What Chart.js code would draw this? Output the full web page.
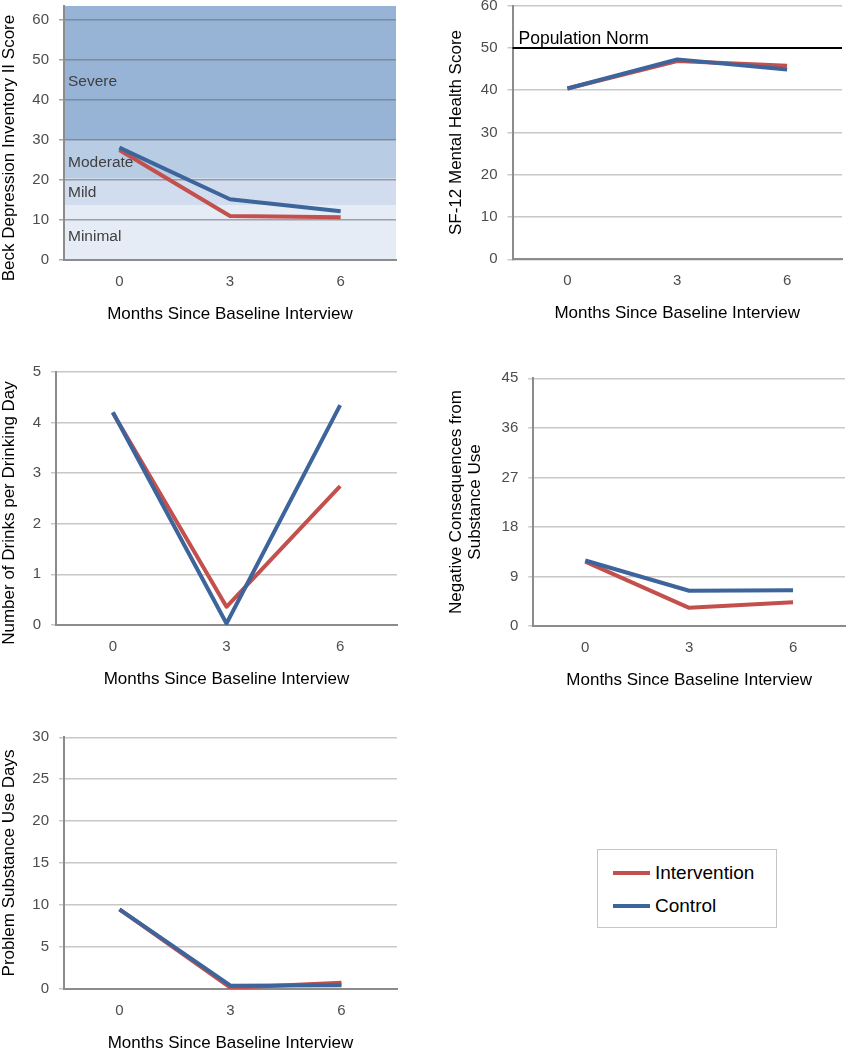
<!DOCTYPE html>
<html>
<head>
<meta charset="utf-8">
<script src="https://cdn.jsdelivr.net/npm/chart.js@4.4.0/dist/chart.umd.min.js"></script>
<style>
html,body{margin:0;padding:0;background:#fff;overflow:hidden;}
#wrap{position:relative;width:847px;height:1050px;overflow:hidden;font-family:"Liberation Sans",Arial,sans-serif;}
#wrap canvas{position:absolute;}
#legend{position:absolute;left:597px;top:849px;width:180px;height:79px;border:1px solid #c6c6c6;box-sizing:border-box;background:#fff;}
#legend .sw{position:absolute;left:15px;width:37px;height:4px;}
#legend .lt{position:absolute;left:57px;font-size:19px;line-height:22px;color:#000;white-space:nowrap;}
</style>
</head>
<body>
<div id="wrap">
  <canvas id="c1"></canvas>
  <canvas id="c2"></canvas>
  <canvas id="c3"></canvas>
  <canvas id="c4"></canvas>
  <canvas id="c5"></canvas>
  <div id="legend">
    <div class="sw" style="top:21px;background:#c4504d"></div><div class="lt" style="top:12px">Intervention</div>
    <div class="sw" style="top:54px;background:#3e659b"></div><div class="lt" style="top:45px">Control</div>
  </div>
</div>
<script>
// ---------- data ----------
const months = ['0', '3', '6'];
const seriesNames = ['Intervention', 'Control'];

const bdiIntervention = [27.5, 11.0, 10.7];
const bdiControl = [28.1, 15.2, 12.2];

const sf12Intervention = [40.4, 46.9, 45.8];
const sf12Control = [40.4, 47.3, 44.9];

const drinksIntervention = [4.19, 0.36, 2.74];
const drinksControl = [4.2, 0.03, 4.34];

const consequencesIntervention = [11.7, 3.3, 4.3];
const consequencesControl = [11.9, 6.4, 6.5];

const problemDaysIntervention = [9.5, 0.15, 0.75];
const problemDaysControl = [9.5, 0.4, 0.45];

const bdiBandNames = ['Minimal', 'Mild', 'Moderate', 'Severe'];
const bdiBandLows = [0, 13.75, 20.5, 30];
const bdiBandHighs = [13.75, 20.5, 30, 63.5];
const bdiBandLabelValues = [5.8, 16.8, 24.3, 44.5];

const populationNormValue = 50;
const populationNormLabel = 'Population Norm';

// tick labels per panel
const bdiTicks = [0, 10, 20, 30, 40, 50, 60];
const sf12Ticks = [0, 10, 20, 30, 40, 50, 60];
const drinksTicks = [0, 1, 2, 3, 4, 5];
const consequencesTicks = [0, 9, 18, 27, 36, 45];
const problemDaysTicks = [0, 5, 10, 15, 20, 25, 30];

// axis ranges
const bdiRange = [0, 63.5];
const sf12Range = [0, 60];
const drinksRange = [0, 5];
const consequencesRange = [0, 45];
const problemDaysRange = [0, 30];

const xTitle = 'Months Since Baseline Interview';

// ---------- styles ----------
const RED = '#c4504d';
const BLUE = '#3e659b';
const FONT = '"Liberation Sans", Arial, sans-serif';
Chart.defaults.font.family = FONT;

const bandColors = ['#e5ecf6', '#d1ddee', '#b8cce4', '#97b3d6'];

// ---------- plugins ----------
const yTitlePlugin = {
  id: 'yTitle',
  afterDraw(chart, args, o) {
    if (!o || !o.lines) return;
    const ctx = chart.ctx;
    ctx.save();
    ctx.font = o.font;
    ctx.fillStyle = o.color || '#000';
    ctx.textAlign = 'center';
    ctx.textBaseline = 'middle';
    o.lines.forEach((line, i) => {
      ctx.save();
      ctx.translate(o.x[i], o.y);
      ctx.rotate(-Math.PI / 2);
      ctx.fillText(line, 0, 0);
      ctx.restore();
    });
    ctx.restore();
  }
};

const bandPlugin = {
  id: 'bands',
  beforeDraw(chart, args, o) {
    if (!o || !o.lows) return;
    const {ctx, chartArea} = chart;
    const y = chart.scales.y;
    ctx.save();
    o.lows.forEach((lo, i) => {
      const top = y.getPixelForValue(o.highs[i]);
      const bot = y.getPixelForValue(lo);
      ctx.fillStyle = o.colors[i];
      ctx.fillRect(chartArea.left, top, chartArea.right - chartArea.left, bot - top);
    });
    ctx.restore();
  },
  beforeDatasetsDraw(chart, args, o) {
    if (!o || !o.names) return;
    const {ctx, chartArea} = chart;
    const y = chart.scales.y;
    ctx.save();
    ctx.font = '15.5px ' + FONT;
    ctx.fillStyle = '#3f3f3f';
    ctx.textAlign = 'left';
    ctx.textBaseline = 'middle';
    o.names.forEach((n, i) => {
      ctx.fillText(n, chartArea.left + 4, y.getPixelForValue(o.labelValues[i]));
    });
    ctx.restore();
  }
};

const normPlugin = {
  id: 'norm',
  afterDatasetsDraw(chart, args, o) {
    if (!o || o.value === undefined) return;
    const {ctx, chartArea} = chart;
    const py = Math.round(chart.scales.y.getPixelForValue(o.value));
    ctx.save();
    ctx.strokeStyle = '#000';
    ctx.lineWidth = 2;
    ctx.beginPath();
    ctx.moveTo(chartArea.left, py);
    ctx.lineTo(chartArea.right, py);
    ctx.stroke();
    ctx.font = '17.5px ' + FONT;
    ctx.fillStyle = '#000';
    ctx.textAlign = 'left';
    ctx.textBaseline = 'alphabetic';
    ctx.fillText(o.label, chartArea.left + 6, py - 4);
    ctx.restore();
  }
};

Chart.register(yTitlePlugin, bandPlugin, normPlugin);

// ---------- chart factory ----------
function makeChart(cfg) {
  const cv = document.getElementById(cfg.id);
  cv.width = cfg.w; cv.height = cfg.h;
  cv.style.left = cfg.left + 'px';
  cv.style.top = cfg.top + 'px';
  cv.style.width = cfg.w + 'px';
  cv.style.height = cfg.h + 'px';
  const xH = cfg.h - cfg.plot.bottom;
  const titleGap = 54.5;
  return new Chart(cv, {
    type: 'line',
    data: {
      labels: months,
      datasets: [
        {label: seriesNames[0], data: cfg.intervention, borderColor: RED, backgroundColor: RED, borderWidth: 4, order: 1},
        {label: seriesNames[1], data: cfg.control, borderColor: BLUE, backgroundColor: BLUE, borderWidth: 4, order: 0}
      ]
    },
    options: {
      responsive: false,
      animation: false,
      devicePixelRatio: 1,
      layout: {padding: {top: cfg.plot.top, right: cfg.w - cfg.plot.right, left: 0, bottom: 0}},
      elements: {
        point: {radius: 0, hoverRadius: 0},
        line: {tension: 0, fill: false, borderJoinStyle: 'round', borderCapStyle: 'butt'}
      },
      plugins: {
        legend: {display: false},
        tooltip: {enabled: false},
        yTitle: {lines: cfg.yTitle, x: cfg.yTitleX, y: cfg.yTitleY, font: '17px ' + FONT, color: '#000'},
        bands: cfg.bands || {},
        norm: cfg.norm || {}
      },
      scales: {
        x: {
          type: 'category',
          offset: true,
          grid: {display: false, drawTicks: false},
          border: {display: true, color: '#8c8c8c', width: 2},
          ticks: {color: '#4d4d4d', font: {size: 15}, padding: 12.5, maxRotation: 0},
          title: {
            display: true, text: xTitle, color: '#000',
            font: {size: 17, lineHeight: 0.8},
            padding: {top: 0, bottom: xH - titleGap - 6.8}
          },
          afterFit(s) { s.height = xH; s.paddingLeft = 0; s.paddingRight = 0; }
        },
        y: {
          type: 'linear',
          min: cfg.range[0], max: cfg.range[1],
          ticks: {color: '#4d4d4d', font: {size: 15}, padding: 10},
          grid: {color: cfg.gridColor || '#c8c8c8', lineWidth: cfg.gridWidth || 1.5, tickLength: 5, drawTicks: true},
          border: {display: true, color: '#8c8c8c', width: 2},
          afterBuildTicks(s) { s.ticks = cfg.ticks.map(v => ({value: v})); },
          afterFit(s) { s.width = cfg.plot.left; s.paddingTop = 0; s.paddingBottom = 0; }
        }
      }
    }
  });
}

makeChart({
  id: 'c1', left: 0, top: 0, w: 400, h: 340,
  plot: {left: 64, top: 6, right: 396, bottom: 260},
  range: bdiRange, ticks: bdiTicks, intervention: bdiIntervention, control: bdiControl,
  yTitle: ['Beck Depression Inventory II Score'], yTitleX: [9], yTitleY: 148,
  gridColor: 'rgba(105,110,120,0.6)', gridWidth: 1.5,
  bands: {lows: bdiBandLows, highs: bdiBandHighs, colors: bandColors, names: bdiBandNames, labelValues: bdiBandLabelValues}
});

makeChart({
  id: 'c2', left: 430, top: 0, w: 417, h: 340,
  plot: {left: 82.5, top: 5.7, right: 412, bottom: 259.3},
  range: sf12Range, ticks: sf12Ticks, intervention: sf12Intervention, control: sf12Control,
  yTitle: ['SF-12 Mental Health Score'], yTitleX: [26], yTitleY: 132.5,
  norm: {value: populationNormValue, label: populationNormLabel}
});

makeChart({
  id: 'c3', left: 0, top: 340, w: 400, h: 360,
  plot: {left: 56, top: 31.7, right: 397, bottom: 285},
  range: drinksRange, ticks: drinksTicks, intervention: drinksIntervention, control: drinksControl,
  yTitle: ['Number of Drinks per Drinking Day'], yTitleX: [9], yTitleY: 173
});

makeChart({
  id: 'c4', left: 430, top: 340, w: 417, h: 360,
  plot: {left: 103.3, top: 38.3, right: 415, bottom: 286},
  range: consequencesRange, ticks: consequencesTicks, intervention: consequencesIntervention, control: consequencesControl,
  yTitle: ['Negative Consequences from', 'Substance Use'], yTitleX: [26, 45.5], yTitleY: 162
});

makeChart({
  id: 'c5', left: 0, top: 700, w: 400, h: 350,
  plot: {left: 64, top: 37.3, right: 397, bottom: 289},
  range: problemDaysRange, ticks: problemDaysTicks, intervention: problemDaysIntervention, control: problemDaysControl,
  yTitle: ['Problem Substance Use Days'], yTitleX: [9], yTitleY: 163
});
</script>
</body>
</html>
